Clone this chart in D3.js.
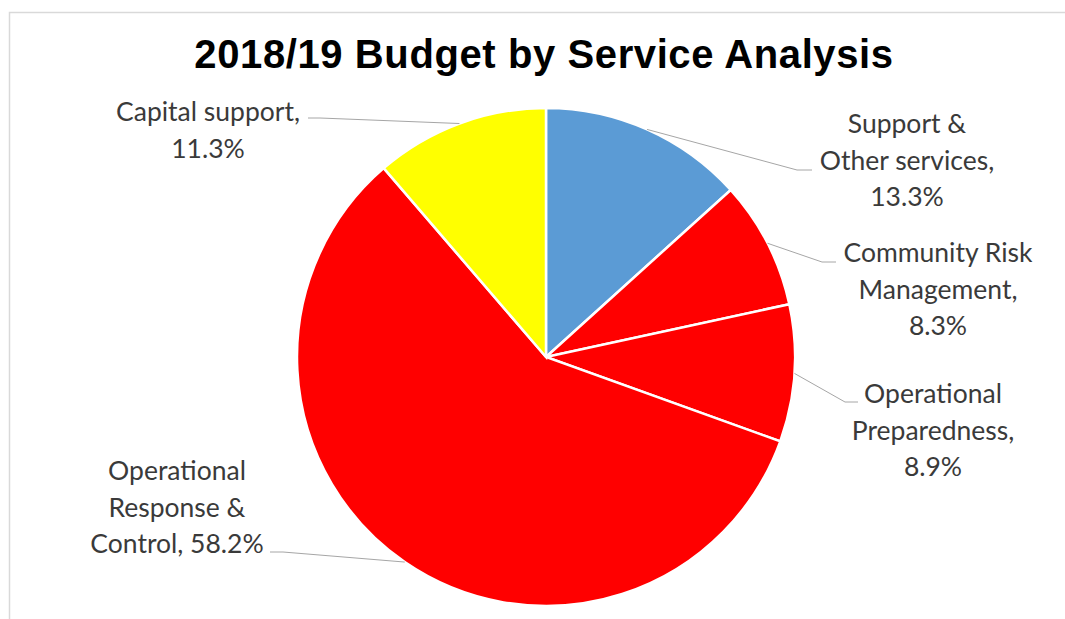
<!DOCTYPE html>
<html>
<head>
<meta charset="utf-8">
<script src="https://cdn.jsdelivr.net/npm/d3@7"></script>
<style>
  body { margin: 0; background: #fff; }
  svg { display: block; }
  .title { font-family: "Liberation Sans", Arial, sans-serif; font-weight: bold; font-size: 40px; letter-spacing: 0.6px; fill: #000; }
  .lbl { font-family: Lato, "Open Sans", sans-serif; font-size: 26.5px; fill: #3a3a3a; }
</style>
</head>
<body>
<div id="chart"></div>
<script>
// Data
var categories = ["Support & Other services", "Community Risk Management", "Operational Preparedness",
                  "Operational Response & Control", "Capital support"];
var shares = [13.3, 8.3, 8.9, 58.2, 11.3];
var colors = ["#5b9bd5", "#ff0000", "#ff0000", "#ff0000", "#ffff00"];

// words per label line, label centre / first baseline, leader elbow + end
var layout = [
  { words: [2, 2, 1], x: 907, y: 133, elbow: [797, 170], end: [812, 170] },
  { words: [2, 1, 1], x: 938, y: 262, elbow: [822, 262], end: [836, 262] },
  { words: [1, 1, 1], x: 933, y: 403, elbow: [845, 402], end: [858, 402] },
  { words: [1, 2, 2], x: 177, y: 480, elbow: [283, 552], end: [270, 552] },
  { words: [2, 1],    x: 208, y: 121, elbow: [320, 118], end: [308, 118] }
];

var width = 1065, height = 619;
var cx = 546, cy = 357, radius = 249;
var lineH = 36.5;

var svg = d3.select("#chart").append("svg")
  .attr("width", width)
  .attr("height", height);

// chart border
svg.append("rect")
  .attr("x", 9.5).attr("y", 12.5)
  .attr("width", width + 20).attr("height", height + 20)
  .attr("fill", "#fff")
  .attr("stroke", "#d9d9d9")
  .attr("stroke-width", 1.5);

svg.append("text")
  .attr("class", "title")
  .attr("x", 544).attr("y", 68)
  .attr("text-anchor", "middle")
  .text("2018/19 Budget by Service Analysis");

var slices = categories.map(function(c, i) { return { name: c, value: shares[i], i: i }; });

var pie = d3.pie().sort(null).value(function(d) { return d.value; });
var arc = d3.arc().innerRadius(0).outerRadius(radius);
var arcs = pie(slices);

var g = svg.append("g").attr("transform", "translate(" + cx + "," + cy + ")");

g.selectAll("path")
  .data(arcs)
  .enter()
  .append("path")
  .attr("d", arc)
  .attr("fill", function(d) { return colors[d.data.i]; })
  .attr("stroke", "#fff")
  .attr("stroke-width", 2.5);

// leader lines: start on the slice edge at its mid angle
svg.append("g")
  .selectAll("polyline")
  .data(arcs)
  .enter()
  .append("polyline")
  .attr("points", function(d) {
    var a = (d.startAngle + d.endAngle) / 2;
    var p = [cx + radius * Math.sin(a), cy - radius * Math.cos(a)];
    var L = layout[d.data.i];
    return [p, L.elbow, L.end].map(function(q) { return q.join(","); }).join(" ");
  })
  .attr("fill", "none")
  .attr("stroke", "#a6a6a6")
  .attr("stroke-width", 1);

// labels
var fmt = d3.format(".1f");
arcs.forEach(function(d) {
  var L = layout[d.data.i];
  var words = (d.data.name + ", " + fmt(d.data.value) + "%").split(" ");
  var lines = [], k = 0;
  L.words.forEach(function(n) { lines.push(words.slice(k, k + n).join(" ")); k += n; });
  var t = svg.append("text")
    .attr("class", "lbl")
    .attr("text-anchor", "middle");
  lines.forEach(function(s, j) {
    t.append("tspan").attr("x", L.x).attr("y", L.y + j * lineH).text(s);
  });
});
</script>
</body>
</html>
